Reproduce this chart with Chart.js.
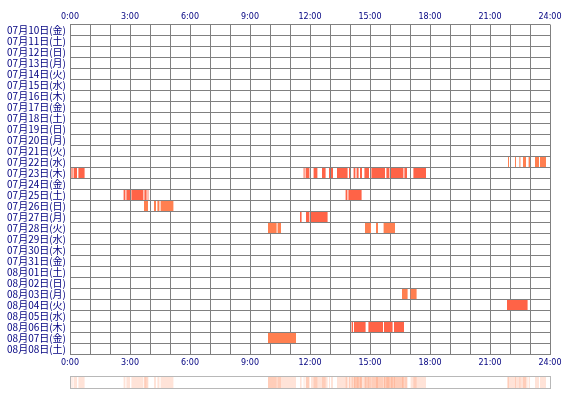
<!DOCTYPE html>
<html>
<head>
<meta charset="utf-8">
<title>時間帯別</title>
<script src="https://cdn.jsdelivr.net/npm/chart.js@4.4.1/dist/chart.umd.min.js"></script>
<style>
    body { margin: 0; background: #fff; }
    #wrap { position: relative; width: 570px; height: 400px; }
    #dayChart { position: absolute; left: 0; top: 0; }
    #sumChart { position: absolute; left: 0; top: 372px; }
</style>
</head>
<body>
<div id="wrap">
    <canvas id="dayChart" width="570" height="372"></canvas>
    <canvas id="sumChart" width="570" height="28"></canvas>
</div>
<script>
var days = [
    '07月10日(金)', '07月11日(土)', '07月12日(日)', '07月13日(月)', '07月14日(火)',
    '07月15日(水)', '07月16日(木)', '07月17日(金)', '07月18日(土)', '07月19日(日)',
    '07月20日(月)', '07月21日(火)', '07月22日(水)', '07月23日(木)', '07月24日(金)',
    '07月25日(土)', '07月26日(日)', '07月27日(月)', '07月28日(火)', '07月29日(水)',
    '07月30日(木)', '07月31日(金)', '08月01日(土)', '08月02日(日)', '08月03日(月)',
    '08月04日(火)', '08月05日(水)', '08月06日(木)', '08月07日(金)', '08月08日(土)'
];

var timeTicks = ['0:00', '3:00', '6:00', '9:00', '12:00', '15:00', '18:00', '21:00', '24:00'];

// [start, end] in hours
var jul22 = [[21.90, 21.95], [22.25, 22.30], [22.47, 22.52], [22.65, 22.80], [22.93, 23.00], [23.25, 23.45], [23.50, 23.80]];
var jul23 = [[0.07, 0.13], [0.18, 0.35], [0.42, 0.73],
    [11.68, 11.73], [11.78, 11.97], [12.18, 12.37], [12.60, 12.78], [12.95, 13.00], [13.05, 13.15],
    [13.35, 13.88], [13.95, 14.00], [14.18, 14.27], [14.33, 14.43], [14.50, 14.60], [14.72, 14.95],
    [15.07, 15.75], [15.82, 15.97], [16.05, 16.67], [16.72, 16.85], [17.17, 17.80]];
var jul25 = [[2.68, 2.77], [2.82, 3.00], [3.07, 3.67], [3.72, 3.83], [3.88, 3.92], [13.78, 13.87], [13.92, 14.58]];
var jul26 = [[3.70, 3.90], [4.20, 4.30], [4.37, 4.47], [4.53, 5.17]];
var jul27 = [[11.50, 11.58], [11.80, 11.97], [12.05, 12.88]];
var jul28 = [[9.90, 10.33], [10.38, 10.55], [14.75, 15.05], [15.30, 15.40], [15.68, 16.25]];
var aug03 = [[16.60, 16.88], [17.03, 17.33]];
var aug04 = [[21.85, 22.88]];
var aug06 = [[14.08, 14.15], [14.20, 14.78], [14.92, 15.65], [15.70, 16.13], [16.20, 16.70]];
var aug07 = [[9.90, 11.30]];

var darkDays = {
    '07月23日(木)': jul23,
    '07月25日(土)': jul25,
    '07月27日(月)': jul27,
    '08月04日(火)': aug04,
    '08月06日(木)': aug06
};
var lightDays = {
    '07月22日(水)': jul22,
    '07月26日(日)': jul26,
    '07月28日(火)': jul28,
    '08月03日(月)': aug03,
    '08月07日(金)': aug07
};

function toPoints(table, rowName) {
    var points = [];
    Object.keys(table).forEach(function (day) {
        table[day].forEach(function (seg) {
            points.push({ x: seg, y: rowName || day });
        });
    });
    return points;
}

function hourLabel(value) {
    return value % 3 === 0 ? timeTicks[value / 3] : '';
}

var navy = '#000080';
var gridGray = '#808080';
var tickFont = { family: "'DejaVu Sans'", size: 8 };

Chart.defaults.font.family = "'Noto Sans CJK JP'";
Chart.defaults.font.size = 10;
Chart.defaults.color = navy;

new Chart(document.getElementById('dayChart'), {
    type: 'bar',
    data: {
        labels: days,
        datasets: [
            {
                data: toPoints(darkDays),
                backgroundColor: '#ff6347',
                grouped: false,
                barThickness: 10,
                inflateAmount: 0
            },
            {
                data: toPoints(lightDays),
                backgroundColor: '#ff7f50',
                grouped: false,
                barThickness: 10,
                inflateAmount: 0
            }
        ]
    },
    options: {
        indexAxis: 'y',
        responsive: false,
        animation: false,
        layout: { padding: { left: 0, right: 20, top: 0, bottom: 0 } },
        plugins: {
            legend: { display: false },
            tooltip: { enabled: false }
        },
        scales: {
            x: {
                type: 'linear',
                position: 'bottom',
                min: 0,
                max: 24,
                grid: { color: gridGray, drawTicks: false },
                border: { color: gridGray },
                ticks: { stepSize: 1, autoSkip: false, maxRotation: 0, padding: 4, font: tickFont, callback: hourLabel },
                afterFit: function (s) { s.height = 17.5; }
            },
            xTop: {
                type: 'linear',
                position: 'top',
                min: 0,
                max: 24,
                grid: { display: false, drawTicks: false },
                border: { display: false },
                ticks: { stepSize: 1, autoSkip: false, maxRotation: 0, padding: 3, font: tickFont, callback: hourLabel },
                afterFit: function (s) { s.height = 24.5; }
            },
            y: {
                type: 'category',
                offset: true,
                grid: { color: gridGray, offset: true, drawTicks: false },
                border: { color: gridGray },
                ticks: { autoSkip: false, padding: 4 },
                afterFit: function (s) { s.width = 70; }
            }
        }
    }
});

// summary strip: all days overlaid
var framePlugin = {
    id: 'frame',
    afterDraw: function (chart) {
        var a = chart.chartArea;
        var ctx = chart.ctx;
        ctx.save();
        ctx.strokeStyle = '#b8b8b8';
        ctx.lineWidth = 1;
        ctx.strokeRect(a.left + 0.5, a.top + 0.5, a.right - a.left, a.bottom - a.top);
        ctx.restore();
    }
};

new Chart(document.getElementById('sumChart'), {
    type: 'bar',
    data: {
        labels: ['all'],
        datasets: [{
            data: toPoints(darkDays, 'all').concat(toPoints(lightDays, 'all')),
            backgroundColor: 'rgba(255, 115, 60, 0.2)',
            grouped: false,
            barThickness: 12,
            inflateAmount: 0
        }]
    },
    options: {
        indexAxis: 'y',
        responsive: false,
        animation: false,
        layout: { padding: { left: 70, right: 20, top: 4, bottom: 12 } },
        plugins: {
            legend: { display: false },
            tooltip: { enabled: false }
        },
        scales: {
            x: { type: 'linear', min: 0, max: 24, display: false },
            y: { type: 'category', display: false }
        }
    },
    plugins: [framePlugin]
});
</script>
</body>
</html>
